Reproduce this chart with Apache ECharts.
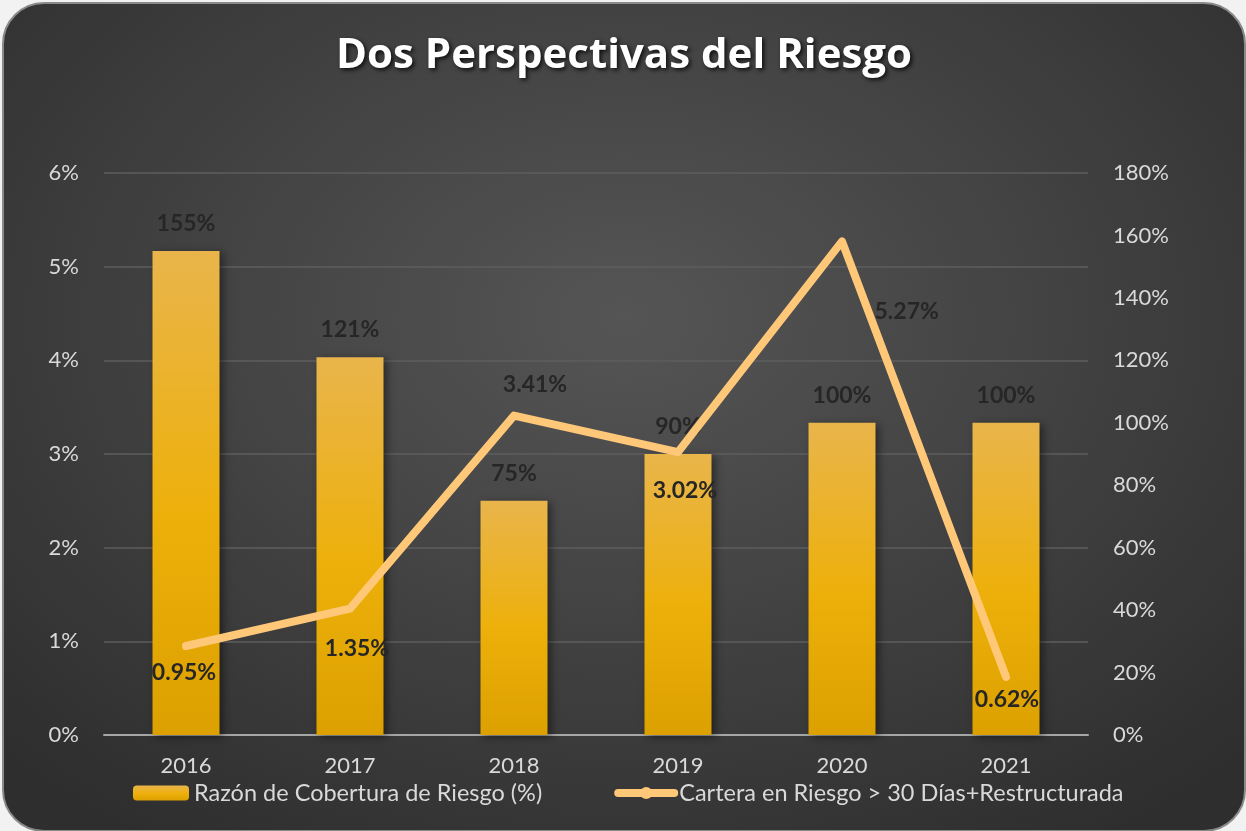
<!DOCTYPE html>
<html>
<head>
<meta charset="utf-8">
<script src="https://cdn.jsdelivr.net/npm/echarts@6/dist/echarts.min.js"></script>
<style>
  html, body { margin: 0; padding: 0; background: #f2f2f2; }
  #wrap {
    position: absolute; left: 2px; top: 2px; width: 1240px; height: 826px;
    border: 2px solid #8a8a8a; border-radius: 42px; overflow: hidden;
    background: radial-gradient(ellipse 70% 75% at 50% 38%, #555555 0%, #444444 45%, #2e2e2e 100%);
  }
  #main { width: 1240px; height: 826px; }
</style>
</head>
<body>
<div id="wrap"><div id="main"></div></div>
<script>
// datos del gráfico
var years = ['2016', '2017', '2018', '2019', '2020', '2021'];
var cobertura = [155, 121, 75, 90, 100, 100];      // eje derecho
var carteraRiesgo = [0.95, 1.35, 3.41, 3.02, 5.27, 0.62]; // eje izquierdo
var leftTicks = [0, 1, 2, 3, 4, 5, 6];
var rightTicks = [0, 20, 40, 60, 80, 100, 120, 140, 160, 180];

// posición de cada etiqueta de la línea
var lineLabelPos = [
    { position: 'bottom', distance: 15, offset: [-2, 0] },
    { position: 'bottom', distance: 28, offset: [7, 0] },
    { position: 'top', distance: 19, offset: [21, 0] },
    { position: 'bottom', distance: 26, offset: [7, 0] },
    { position: 'right', distance: 32, offset: [0, 70] },
    { position: 'bottom', distance: 11, offset: [1, 0] }
];

var chart = echarts.init(document.getElementById('main'));

var lineData = carteraRiesgo.map(function (v, i) {
    return { value: v, label: lineLabelPos[i] };
});

var font = 'Lato, "Open Sans", sans-serif';

var option = {
    backgroundColor: 'transparent',
    textStyle: { fontFamily: font },
    title: {
        text: 'Dos Perspectivas del Riesgo',
        left: 'center',
        top: 26,
        textStyle: {
            color: '#ffffff',
            fontSize: 42,
            fontWeight: 'bold',
            fontFamily: '"Open Sans", Lato, sans-serif',
            textShadowColor: 'rgba(0,0,0,0.8)',
            textShadowBlur: 4,
            textShadowOffsetX: 2,
            textShadowOffsetY: 2
        }
    },
    legend: {
        bottom: 20,
        left: 124,
        itemGap: 72,
        itemWidth: 56,
        itemHeight: 15,
        textStyle: { color: '#d9d9d9', fontSize: 23.5, fontFamily: font },
        data: [
            'Razón de Cobertura de Riesgo (%)',
            { name: 'Cartera en Riesgo > 30 Días+Restructurada', lineStyle: { width: 8, cap: 'round' } }
        ]
    },
    grid: { left: 100, right: 156, top: 169, bottom: 95 },
    xAxis: {
        type: 'category',
        data: years,
        axisTick: { show: false },
        axisLine: { lineStyle: { color: '#a6a6a6', width: 2 } },
        axisLabel: { color: '#d9d9d9', fontSize: 22, margin: 20 }
    },
    yAxis: [
        {
            type: 'value',
            min: leftTicks[0],
            max: leftTicks[leftTicks.length - 1],
            interval: 1,
            axisLabel: { color: '#d9d9d9', fontSize: 22, margin: 25, formatter: '{value}%' },
            splitLine: { lineStyle: { color: '#5e5e5e', width: 1.5 } },
            axisLine: { show: false },
            axisTick: { show: false }
        },
        {
            type: 'value',
            min: rightTicks[0],
            max: rightTicks[rightTicks.length - 1],
            interval: 20,
            axisLabel: { color: '#d9d9d9', fontSize: 22, margin: 25, formatter: '{value}%' },
            splitLine: { show: false },
            axisLine: { show: false },
            axisTick: { show: false }
        }
    ],
    series: [
        {
            name: 'Razón de Cobertura de Riesgo (%)',
            type: 'bar',
            yAxisIndex: 1,
            barWidth: 67,
            data: cobertura,
            itemStyle: {
                color: new echarts.graphic.LinearGradient(0, 0, 0, 1, [
                    { offset: 0, color: '#e9b54b' },
                    { offset: 0.55, color: '#edb00a' },
                    { offset: 1, color: '#dca000' }
                ]),
                shadowColor: 'rgba(0,0,0,0.45)',
                shadowBlur: 8,
                shadowOffsetX: 3,
                shadowOffsetY: 2
            },
            label: {
                show: true,
                position: 'top',
                distance: 16,
                formatter: '{c}%',
                color: '#262626',
                fontSize: 23,
                fontWeight: 'bold'
            },
            z: 2
        },
        {
            name: 'Cartera en Riesgo > 30 Días+Restructurada',
            type: 'line',
            yAxisIndex: 0,
            data: lineData,
            symbol: 'circle',
            symbolSize: 1,
            showSymbol: true,
            lineStyle: { color: '#ffc878', width: 8, cap: 'round', join: 'round' },
            itemStyle: { color: '#ffc878' },
            label: {
                show: true,
                formatter: '{c}%',
                color: '#262626',
                fontSize: 23,
                fontWeight: 'bold'
            },
            z: 3
        }
    ]
};

chart.setOption(option);
</script>
</body>
</html>
